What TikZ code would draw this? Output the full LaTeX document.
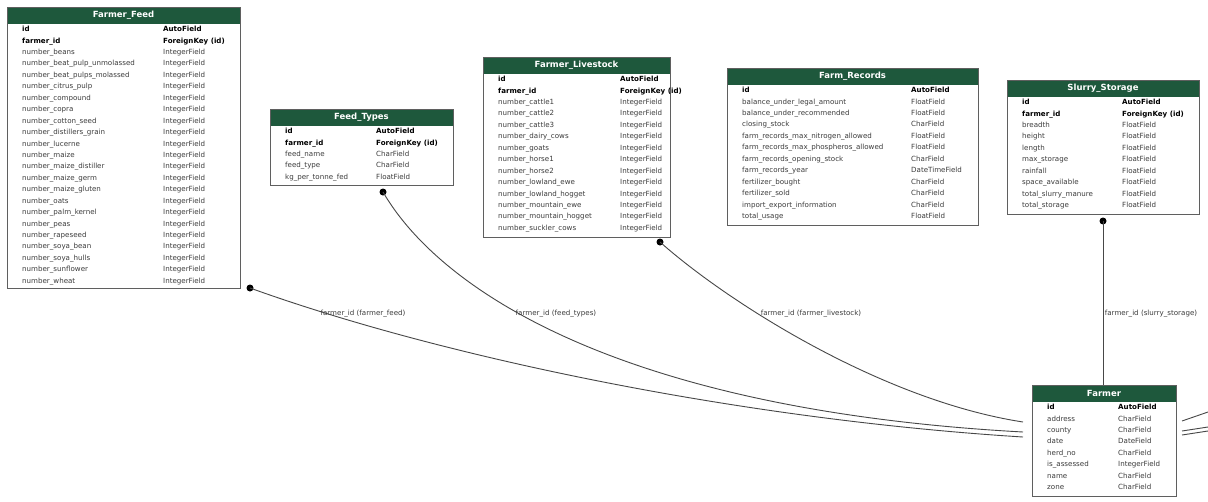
\documentclass[tikz,border=0pt]{standalone}
\usepackage{fontspec}
\setmainfont{DejaVu Sans}
\usepackage{array}
\definecolor{hdrgreen}{RGB}{30,88,60}
\definecolor{fieldgray}{RGB}{60,60,60}
\definecolor{bordergray}{RGB}{95,95,95}
\tikzset{
 tbox/.style={draw=bordergray, line width=1pt, fill=white, inner sep=0pt, outer sep=0pt},
 htext/.style={text=white, font=\fontsize{8.5}{10}\selectfont\bfseries, inner sep=0pt},
 btext/.style={font=\fontsize{7.1}{11.43}\selectfont, text=fieldgray, inner sep=0pt, anchor=north west},
 lbl/.style={font=\fontsize{7.1}{9}\selectfont, text=fieldgray, inner sep=1pt},
 conn/.style={draw=black!72, line width=0.9pt},
 fkdot/.style={circle, fill=black, inner sep=0pt, minimum size=7pt},
}
\newcommand\kf[2]{\textcolor{black}{\textbf{#1}} & \textcolor{black}{\textbf{#2}}}
\newcommand\erdtable[8]{%
 \node[tbox, minimum width=#4pt, minimum height=#5pt, anchor=north west] (#1) at (#2,#3) {};
 \fill[hdrgreen] (#1.north west) rectangle ([yshift=-17pt]#1.north east);
 \draw[draw=bordergray, line width=1pt] (#1.north west) rectangle (#1.south east);
 \node[htext] (#1-title) at ([yshift=-8.5pt]#1.north) {#6};
 \node[btext] (#1-body) at ([xshift=15pt,yshift=-16.5pt]#1.north west) {\begin{tabular}{@{}p{#7pt}@{}l@{}}#8\end{tabular}};
}
\begin{document}
\begin{tikzpicture}[x=1pt,y=-1pt]
\useasboundingbox[fill=white] (0,0) rectangle (1208,501);

\erdtable{ff}{7}{7}{233}{281}{Farmer\_Feed}{141}{%
\kf{id}{AutoField}\\
\kf{farmer\_id}{ForeignKey (id)}\\
number\_beans & IntegerField\\
number\_beat\_pulp\_unmolassed & IntegerField\\
number\_beat\_pulps\_molassed & IntegerField\\
number\_citrus\_pulp & IntegerField\\
number\_compound & IntegerField\\
number\_copra & IntegerField\\
number\_cotton\_seed & IntegerField\\
number\_distillers\_grain & IntegerField\\
number\_lucerne & IntegerField\\
number\_maize & IntegerField\\
number\_maize\_distiller & IntegerField\\
number\_maize\_germ & IntegerField\\
number\_maize\_gluten & IntegerField\\
number\_oats & IntegerField\\
number\_palm\_kernel & IntegerField\\
number\_peas & IntegerField\\
number\_rapeseed & IntegerField\\
number\_soya\_bean & IntegerField\\
number\_soya\_hulls & IntegerField\\
number\_sunflower & IntegerField\\
number\_wheat & IntegerField}

\erdtable{ft}{270}{109}{183}{76}{Feed\_Types}{91}{%
\kf{id}{AutoField}\\
\kf{farmer\_id}{ForeignKey (id)}\\
feed\_name & CharField\\
feed\_type & CharField\\
kg\_per\_tonne\_fed & FloatField}

\erdtable{fl}{483}{57}{187}{180}{Farmer\_Livestock}{122}{%
\kf{id}{AutoField}\\
\kf{farmer\_id}{ForeignKey (id)}\\
number\_cattle1 & IntegerField\\
number\_cattle2 & IntegerField\\
number\_cattle3 & IntegerField\\
number\_dairy\_cows & IntegerField\\
number\_goats & IntegerField\\
number\_horse1 & IntegerField\\
number\_horse2 & IntegerField\\
number\_lowland\_ewe & IntegerField\\
number\_lowland\_hogget & IntegerField\\
number\_mountain\_ewe & IntegerField\\
number\_mountain\_hogget & IntegerField\\
number\_suckler\_cows & IntegerField}

\erdtable{fr}{727}{68}{251}{157}{Farm\_Records}{169}{%
\kf{id}{AutoField}\\
balance\_under\_legal\_amount & FloatField\\
balance\_under\_recommended & FloatField\\
closing\_stock & CharField\\
farm\_records\_max\_nitrogen\_allowed & FloatField\\
farm\_records\_max\_phospheros\_allowed & FloatField\\
farm\_records\_opening\_stock & CharField\\
farm\_records\_year & DateTimeField\\
fertilizer\_bought & CharField\\
fertilizer\_sold & CharField\\
import\_export\_information & CharField\\
total\_usage & FloatField}

\erdtable{ss}{1007}{80}{192}{134}{Slurry\_Storage}{100}{%
\kf{id}{AutoField}\\
\kf{farmer\_id}{ForeignKey (id)}\\
breadth & FloatField\\
height & FloatField\\
length & FloatField\\
max\_storage & FloatField\\
rainfall & FloatField\\
space\_available & FloatField\\
total\_slurry\_manure & FloatField\\
total\_storage & FloatField}

\erdtable{fa}{1032}{385}{144}{111}{Farmer}{71}{%
\kf{id}{AutoField}\\
address & CharField\\
county & CharField\\
date & DateField\\
herd\_no & CharField\\
is\_assessed & IntegerField\\
name & CharField\\
zone & CharField}

% foreign key dots
\node[fkdot] (ff-d) at ([xshift=10pt]ff.south east) {};
\node[fkdot] (ft-d) at ([xshift=21.5pt,yshift=-7pt]ft.south) {};
\node[fkdot] (fl-d) at ([xshift=-10pt,yshift=-5pt]fl.south east) {};
\node[fkdot] (ss-d) at ([yshift=-7pt]ss.south) {};

% connector ends at Farmer
\coordinate (fa-in1) at ([xshift=-9pt,yshift=-37pt]fa.north west);
\coordinate (fa-in2) at ([xshift=-9pt,yshift=-47pt]fa.north west);
\coordinate (fa-in3) at ([xshift=-9pt,yshift=-52pt]fa.north west);
\coordinate (fa-o1s) at ([xshift=6pt,yshift=-36pt]fa.north east);
\coordinate (fa-o2s) at ([xshift=6pt,yshift=-46pt]fa.north east);
\coordinate (fa-o3s) at ([xshift=6pt,yshift=-50pt]fa.north east);
\coordinate (o1) at (1208,412);
\coordinate (o2) at (1208,427);
\coordinate (o3) at (1208,431);

\draw[conn] (ff-d.center) .. controls (450,360) and (750,420) .. (fa-in3);
\draw[conn] (ft-d.center) .. controls (440,290) and (620,410) .. (fa-in2);
\draw[conn] (fl-d.center) .. controls (725,300) and (880,400) .. (fa-in1);
\draw[conn] (ss-d.center) -- (ss-d |- fa.north);
\draw[conn] (fa-o1s) -- (o1);
\draw[conn] (fa-o2s) -- (o2);
\draw[conn] (fa-o3s) -- (o3);

\node[lbl] (l-ff) at (363,314) {farmer\_id (farmer\_feed)};
\node[lbl] (l-ft) at (556,314) {farmer\_id (feed\_types)};
\node[lbl] (l-fl) at (811,314) {farmer\_id (farmer\_livestock)};
\node[lbl] (l-ss) at (1151,314) {farmer\_id (slurry\_storage)};
\end{tikzpicture}
\end{document}
